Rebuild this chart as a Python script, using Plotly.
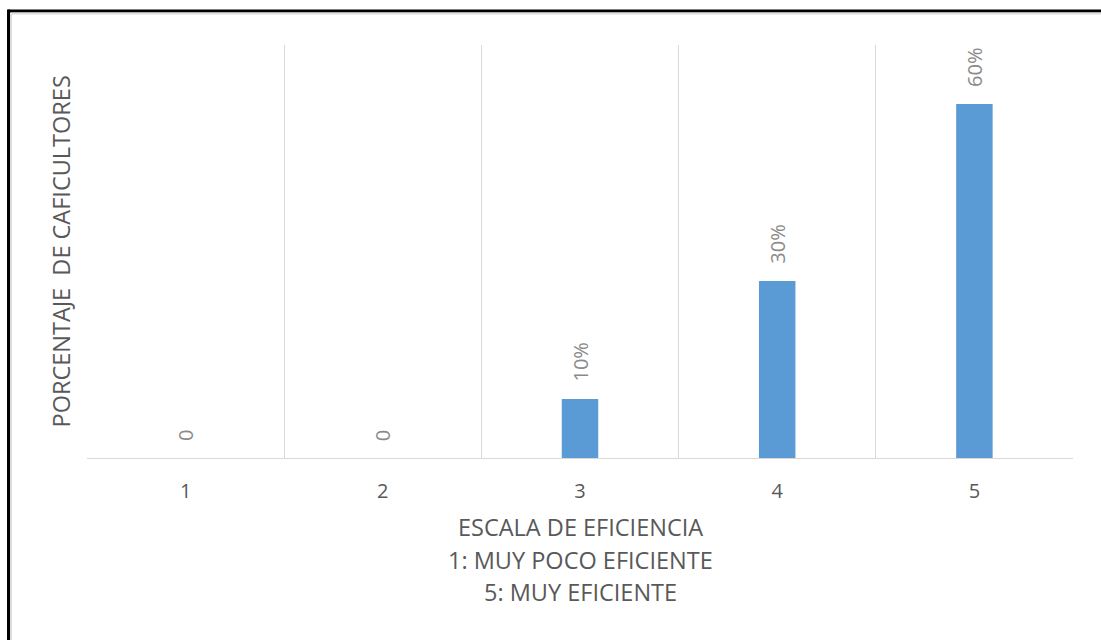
import plotly.graph_objects as go

# Efficiency scale (1 = very inefficient, 5 = very efficient) and share of coffee growers
categorias = ["1", "2", "3", "4", "5"]
porcentajes = [0, 0, 10, 30, 60]
etiquetas = ["0" if v == 0 else f"{v}%" for v in porcentajes]

titulo_y = "PORCENTAJE  DE CAFICULTORES"
titulo_x = ["ESCALA DE EFICIENCIA", "1: MUY POCO EFICIENTE", "5: MUY EFICIENTE"]

W, H = 1101, 640
M_L, M_R, M_T, M_B = 87, 28, 45, 182
plot_w = W - M_L - M_R
plot_h = H - M_T - M_B

FUENTE = "'Open Sans', Lato, sans-serif"
GRIS_TEXTO = "#595959"
GRIS_ETIQ = "#8a8a8a"
GRIS_REJ = "#d9d9d9"

fig = go.Figure(
    go.Bar(
        x=categorias,
        y=porcentajes,
        width=0.185,
        marker=dict(color="#5B9BD5", line=dict(width=0)),
        hoverinfo="skip",
    )
)

# rotated data labels sitting just above each bar (category axis -> index position)
for i, (v, t) in enumerate(zip(porcentajes, etiquetas)):
    fig.add_annotation(
        x=i, y=v, xref="x", yref="y", text=t, textangle=-90,
        showarrow=False, xanchor="center", yanchor="bottom", yshift=15,
        font=dict(family=FUENTE, size=20, color=GRIS_ETIQ),
    )

# vertical axis title
fig.add_annotation(
    x=0, y=0.5, xref="paper", yref="paper", text=titulo_y, textangle=-90,
    showarrow=False, xanchor="right", yanchor="middle", xshift=-9,
    font=dict(family=FUENTE, size=23.5, color=GRIS_TEXTO),
)

# three-line horizontal axis title
for i, linea in enumerate(titulo_x):
    fig.add_annotation(
        x=0.5, y=0, xref="paper", yref="paper", text=linea,
        showarrow=False, xanchor="center", yanchor="middle",
        yshift=-(69 + 32.5 * i),
        font=dict(family=FUENTE, size=23.5, color=GRIS_TEXTO),
    )

# outer frame: left and top edges
def px_x(p):
    return (p - M_L) / plot_w

def px_y(p):
    return (H - M_B - p) / plot_h

fig.add_shape(type="line", xref="paper", yref="paper",
              x0=px_x(8.5), x1=px_x(W + 5), y0=px_y(11), y1=px_y(11),
              line=dict(color="black", width=3))
fig.add_shape(type="line", xref="paper", yref="paper",
              x0=px_x(8.5), x1=px_x(8.5), y0=px_y(9.5), y1=px_y(H + 5),
              line=dict(color="black", width=3))
fig.add_shape(type="line", xref="paper", yref="paper",
              x0=px_x(11), x1=px_x(W + 5), y0=px_y(13.5), y1=px_y(13.5),
              line=dict(color="#dcdcdc", width=2))
fig.add_shape(type="line", xref="paper", yref="paper",
              x0=px_x(11), x1=px_x(11), y0=px_y(13.5), y1=px_y(H + 5),
              line=dict(color="#dcdcdc", width=2))

fig.update_layout(
    width=W, height=H,
    margin=dict(l=M_L, r=M_R, t=M_T, b=M_B),
    paper_bgcolor="white", plot_bgcolor="white",
    showlegend=False,
    font=dict(family=FUENTE, color=GRIS_TEXTO),
    xaxis=dict(
        type="category",
        tickson="boundaries",
        showgrid=True, gridcolor=GRIS_REJ, gridwidth=1,
        showline=True, linecolor=GRIS_REJ, linewidth=1,
        ticks="", ticklabelstandoff=15,
        tickfont=dict(family=FUENTE, size=20, color=GRIS_TEXTO),
        range=[-0.5, 4.5], fixedrange=True,
    ),
    yaxis=dict(
        range=[0, 70], visible=True, showgrid=False, zeroline=False,
        showticklabels=False, ticks="", showline=False, fixedrange=True,
    ),
)

fig.write_html("out.html")
